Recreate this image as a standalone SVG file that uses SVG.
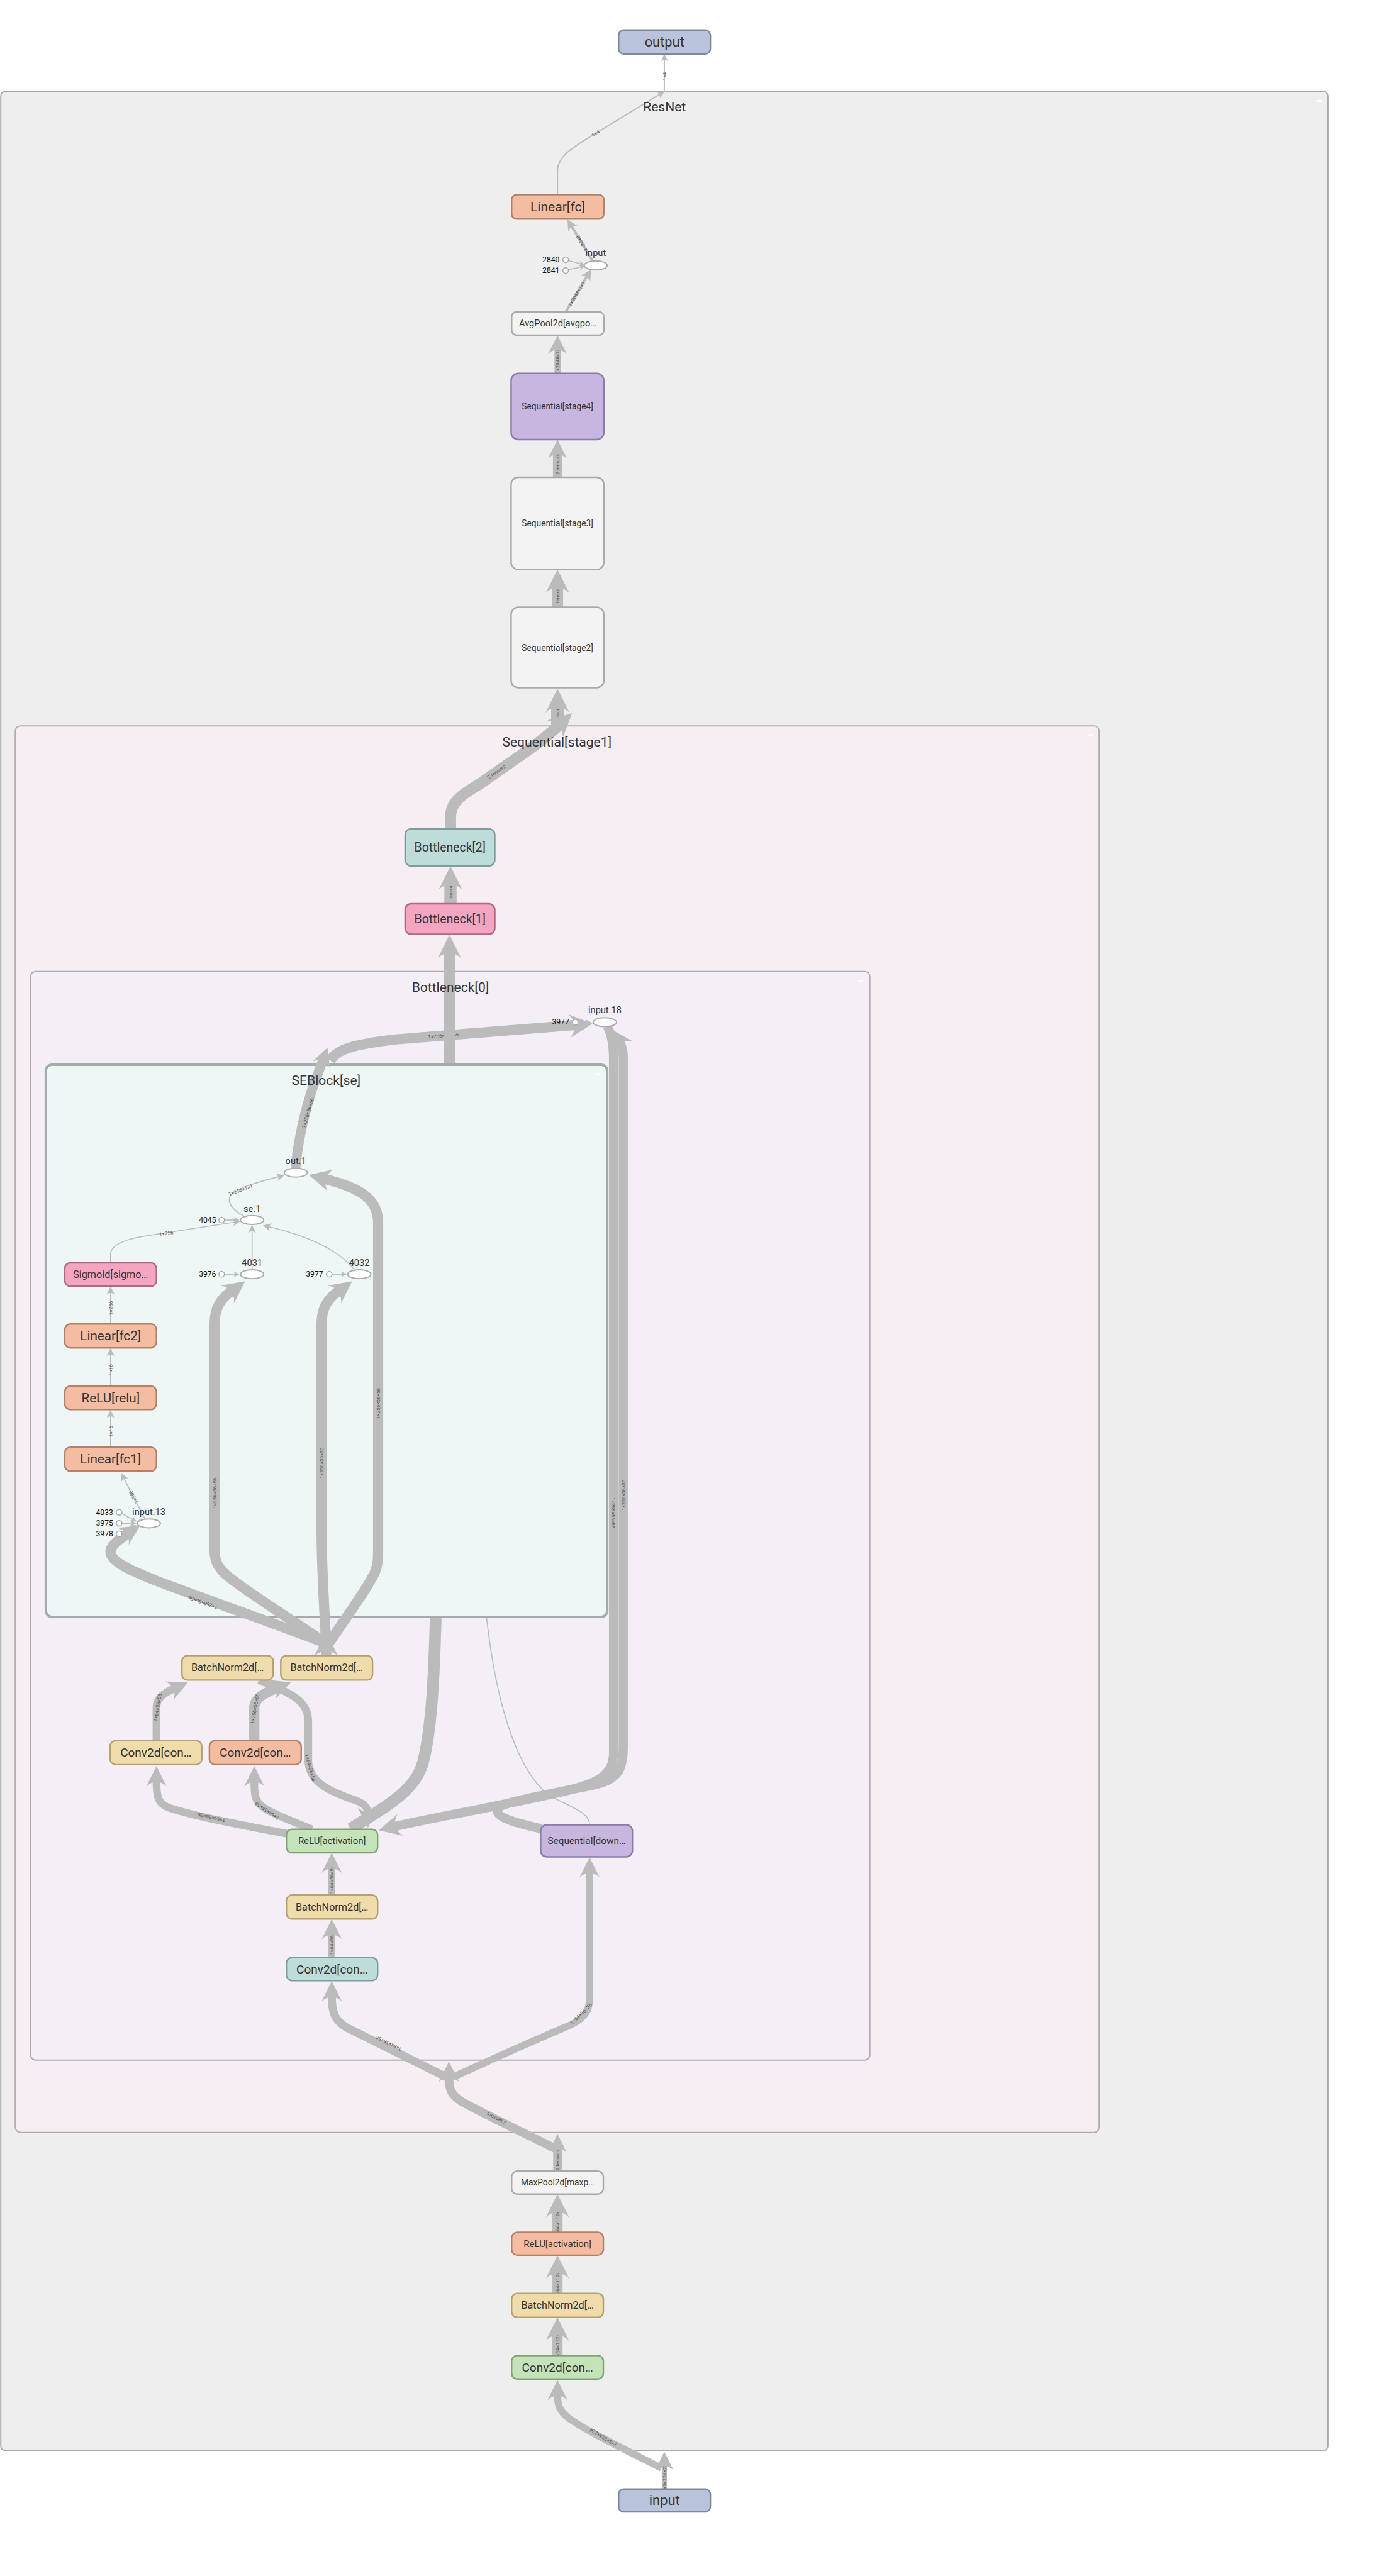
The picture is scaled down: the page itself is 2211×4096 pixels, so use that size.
<svg xmlns="http://www.w3.org/2000/svg" width="2211" height="4096" viewBox="0 0 2211 4096">
<style>
.e{fill:none;stroke:#bbb}
.ah{fill:none;stroke:none}
.l{font-family:Roboto,"Liberation Sans",sans-serif;font-size:10px;fill:#555;text-anchor:middle;dominant-baseline:central}
.t{font-family:Roboto,"Liberation Sans",sans-serif;fill:#333;text-anchor:middle;dominant-baseline:central}
.cl{font-family:Roboto,"Liberation Sans",sans-serif;font-size:26px;fill:#333;text-anchor:middle}
.el-l{font-family:Roboto,"Liberation Sans",sans-serif;font-size:18px;fill:#333;text-anchor:middle}
.c{font-family:Roboto,"Liberation Sans",sans-serif;font-size:15px;fill:#111;text-anchor:end;dominant-baseline:central}
.el{fill:#fff;stroke:#aaa;stroke-width:2.5}
.cc{fill:#fff;stroke:#aaa;stroke-width:2}
.nd{stroke-width:3}
.blue{fill:#b9c4dc;stroke:#7d889e}
.peach{fill:#f4bca1;stroke:#b18169}
.purple{fill:#c6b6e0;stroke:#8c7ba8}
.gray{fill:#f3f3f3;stroke:#aaaaaa}
.teal{fill:#bddcda;stroke:#7f9d9b}
.pink{fill:#f4a5c1;stroke:#b06985}
.yellow{fill:#f0dbab;stroke:#b5a071}
.green{fill:#c5e3b8;stroke:#84a27a}
.btn{fill:#fff}
</style>
<defs>
<marker id="arr" viewBox="0 0 10 10" refX="10" refY="5" markerWidth="1" markerHeight="1" orient="auto"><path d="M0 0L10 5L0 10C3 7 3 3 0 0Z" fill="#bbb"/></marker>
</defs>
<g transform="scale(0.81)">
<g id="clusters">
<g id="cluster-resnet"><rect x="1.5" y="180" width="2604.5" height="4630" rx="8" fill="#eeeeee" stroke="#a9a9a9" stroke-width="2.5"/><rect class="btn" x="2584" y="196" width="10" height="4"/></g>
<g id="cluster-stage1"><rect x="30" y="1425" width="2127" height="2761" rx="10" fill="#f6eef2" stroke="#b3acaf" stroke-width="2.5"/><rect class="btn" x="2136" y="1441" width="10" height="4"/></g>
<g id="cluster-bottleneck0"><rect x="60" y="1907" width="1647" height="2137" rx="10" fill="#f4eef6" stroke="#adaab1" stroke-width="2.5"/><rect class="btn" x="1684" y="1924" width="10" height="4"/></g>
<g id="cluster-seblock"><rect x="90" y="2090" width="1101.5" height="1084" rx="12" fill="#eef7f6" stroke="#a3acab" stroke-width="5"/><rect class="btn" x="1168" y="2107" width="12" height="4"/></g>
</g>
<g id="connectors">
<!-- edges passing near/behind SEBlock -->
<path class="e" stroke-width="20" d="M648 2082 C662 2058 700 2050 770 2041 L1131 2012"/>
<text class="l" transform="translate(870 2033) rotate(-5)">1×256×56×56</text>
<path class="e" stroke-width="23" d="M688 3590 C760 3545 815 3515 830 3460 C848 3390 852 3280 855 3176.5"/>
<path class="e" stroke-width="23" d="M882 2087.5 L882 1867"/>
<path class="e" stroke-width="2" d="M955 3176.5 C972 3330 1010 3470 1075 3522 C1110 3545 1157 3555 1157 3582"/>
<!-- SEBlock inner edges -->
<path class="e" stroke-width="19" d="M580 2293 C584 2245 597 2185 612 2140 L634 2080"/>
<path class="e" stroke-width="20" d="M640 3226 C560 3195 460 3160 330 3112 C250 3082 200 3060 222 3034 C228 3025 240 3018 252 3010"/>
<path class="e" stroke-width="20" d="M640 3226 C560 3172 470 3115 440 3088 C424 3072 421 3060 421 3040 L421 2600 C421 2565 435 2548 456 2533"/>
<path class="e" stroke-width="20" d="M640 3226 C636 3150 631 3080 631 3000 L631 2600 C631 2565 645 2548 666 2533"/>
<path class="e" stroke-width="20" d="M645 3226 C690 3160 722 3115 735 3088 C742 3072 742 3060 742 3040 L742 2400 C742 2350 700 2330 636 2314"/>
<path class="e" stroke-width="20" d="M640 3250 L640 3237.6"/>
<path class="e" stroke-width="2" d="M284 2981 L243 2902"/>
<path class="e" stroke-width="2" d="M217 2841 L217 2779"/>
<path class="e" stroke-width="2" d="M217 2721 L217 2657.7"/>
<path class="e" stroke-width="2" d="M217 2479 L217 2462 C217 2445 240 2432 300 2424 L461 2399"/>
<path class="e" stroke-width="2" d="M217 2599 L217 2536.7"/>
<path class="e" stroke-width="2" d="M494.7 2492.4 L494.7 2415.7"/>
<path class="e" stroke-width="2" d="M696 2493 C670 2460 620 2430 527 2408"/>
<path class="e" stroke-width="2" d="M480 2388 C455 2375 445 2360 452 2348 C462 2333 500 2322 547 2310"/>
<path class="e" stroke-width="2" d="M441 2395 L461.6 2395"/>
<path class="e" stroke-width="2" d="M441 2501.4 L461.6 2501.4"/>
<path class="e" stroke-width="2" d="M651.5 2501.4 L672 2501.4"/>
<path class="e" stroke-width="2" d="M239 2971 L260.6 2983"/>
<path class="e" stroke-width="2" d="M239.5 2990.4 L259.6 2990.4"/>
<path class="e" stroke-width="2" d="M239 3008 L260.4 2997.7"/>
<!-- Bottleneck[0] edges -->
<path class="e" stroke-width="2" d="M1134.5 2006.7 L1151.6 2006.7"/>
<path class="e" stroke-width="18" d="M1192 2015 C1200 2030 1204 2050 1204 2080 L1204 3440 C1204 3495 1160 3505 1060 3527 C930 3555 840 3570 773 3586"/>
<path class="e" stroke-width="18" d="M1063 3590 C1010 3578 975 3568 975 3553 C975 3538 1080 3522 1170 3503 C1215 3492 1223 3470 1223 3430 L1223 2075 C1223 2062 1220 2052 1216 2046"/>
<path class="e" stroke-width="15" d="M565 3600 C470 3582 380 3565 330 3548 C310 3540 307 3528 307 3495"/>
<path class="e" stroke-width="15" d="M612 3591 C560 3570 520 3555 508 3540 C500 3530 499 3520 499 3495"/>
<path class="e" stroke-width="15" d="M307 3417 L307 3352 C307 3335 318 3325 343 3314"/>
<path class="e" stroke-width="20" d="M499 3417 L499 3352 C499 3335 515 3325 545 3313"/>
<path class="e" stroke-width="15" d="M508 3298 C565 3322 605 3335 605 3380 L605 3455 C605 3500 650 3518 700 3535 C715 3541 722 3548 722 3560"/>
<path class="e" stroke-width="14" d="M651 3720 L651 3665"/>
<path class="e" stroke-width="14" d="M651 3843 L651 3795"/>
<path class="e" stroke-width="16" d="M881 4080 C800 4040 720 4000 680 3980 C656 3966 651 3950 651 3917"/>
<path class="e" stroke-width="14" d="M888 4078 C960 4045 1060 4000 1120 3975 C1150 3960 1157 3945 1157 3920 L1157 3674"/>
<!-- stage1 edges -->
<path class="e" stroke-width="17" d="M1090 4218 C1020 4183 950 4150 905 4125 C883 4110 881 4100 881 4075"/>
<path class="e" stroke-width="22" d="M884 1627 L884 1605 C884 1575 905 1560 940 1540 L1040 1470 C1065 1452 1082 1438 1099 1422"/>
<path class="e" stroke-width="24" d="M884 1774 L884 1733"/>
<!-- ResNet edges -->
<path class="e" stroke-width="2.5" d="M1303.6 180 L1303.6 116.5"/>
<path class="e" stroke-width="2.5" d="M1094 381 L1094 335 C1094 305 1130 285 1180 255 L1295 185"/>
<path class="e" stroke-width="5" d="M1162 511 L1121.5 444"/>
<path class="e" stroke-width="5" d="M1111 611 L1152.1 542"/>
<path class="e" stroke-width="2" d="M1115.5 511.5 L1140 518"/>
<path class="e" stroke-width="2" d="M1115.5 529.5 L1140 524"/>
<path class="e" stroke-width="12" d="M1094 732 L1094 684"/>
<path class="e" stroke-width="18" d="M1094 937 L1094 889"/>
<path class="e" stroke-width="22" d="M1094 1192 L1094 1150"/>
<path class="e" stroke-width="25" d="M1094 1425 L1094 1385"/>
<path class="e" stroke-width="17" d="M1094 4262 L1094 4214"/>
<path class="e" stroke-width="20" d="M1094 4382 L1094 4339"/>
<path class="e" stroke-width="20" d="M1094 4501 L1094 4459"/>
<path class="e" stroke-width="20" d="M1094 4623 L1094 4581"/>
<path class="e" stroke-width="10" d="M1303.6 4886 L1303.6 4838"/>
<path class="e" stroke-width="14" d="M1298 4845 C1220 4805 1150 4772 1115 4746 C1098 4733 1094 4722 1094 4700"/>
<!-- labels -->
<g id="edge-labels">
<text class="l" transform="translate(1303.6 150) rotate(-90)">1×4</text>
<text class="l" transform="translate(1169 262) rotate(-31)">1×4</text>
<text class="l" transform="translate(1141.7 477.5) rotate(239)">1×2048</text>
<text class="l" transform="translate(1131.5 576.5) rotate(-59)">1×2048×1×1</text>
<text class="l" transform="translate(1094 706) rotate(-90)">1×2048×7×7</text>
<text class="l" transform="translate(1094 911) rotate(-90)">2 tensors</text>
<text class="l" transform="translate(1094 1170) rotate(-90)">tensor</text>
<text class="l" transform="translate(1094 1405) rotate(-90)">tensor</text>
<text class="l" transform="translate(974 1515) rotate(-35)">2 tensors</text>
<text class="l" transform="translate(884 1752) rotate(-90)">tensor</text>
<text class="l" transform="translate(604 2185) rotate(-74)">1×256×56×56</text>
<text class="l" transform="translate(472 2336) rotate(-20)">1×256×1×1</text>
<text class="l" transform="translate(326 2421) rotate(-9)">1×256</text>
<text class="l" transform="translate(217 2568) rotate(-90)">1×256</text>
<text class="l" transform="translate(217 2689) rotate(-90)">1×16</text>
<text class="l" transform="translate(217 2810) rotate(-90)">1×16</text>
<text class="l" transform="translate(262 2939) rotate(242)">1×256</text>
<text class="l" transform="translate(398 3146) rotate(200)">1×256×56×56</text>
<text class="l" transform="translate(421 2931) rotate(-90)">1×256×56×56</text>
<text class="l" transform="translate(631 2872) rotate(-90)">1×256×56×56</text>
<text class="l" transform="translate(742 2755) rotate(-90)">1×256×56×56</text>
<text class="l" transform="translate(1204 2970) rotate(90)">1×256×56×56</text>
<text class="l" transform="translate(1223 2935) rotate(-90)">1×256×56×56</text>
<text class="l" transform="translate(415 3568) rotate(193)">1×64×56×56</text>
<text class="l" transform="translate(524 3555) rotate(215)">1×64×56×56</text>
<text class="l" transform="translate(309 3352) rotate(-80)">1×64×56×56</text>
<text class="l" transform="translate(500 3354) rotate(-80)">1×256×56×56</text>
<text class="l" transform="translate(609 3470) rotate(75)">1×64×56×56</text>
<text class="l" transform="translate(651 3690) rotate(-90)">1×64×56×56</text>
<text class="l" transform="translate(651 3810) rotate(-90)">1×64×56×56</text>
<text class="l" transform="translate(763 4011) rotate(207)">1×64×56×56</text>
<text class="l" transform="translate(1140 3953) rotate(-45)">1×64×56×56</text>
<text class="l" transform="translate(974 4159) rotate(207)">2 tensors</text>
<text class="l" transform="translate(1094 4240) rotate(-90)">2 tensors</text>
<text class="l" transform="translate(1094 4598) rotate(-90)">1×64×112×112</text>
<text class="l" transform="translate(1094 4476) rotate(-90)">1×64×112×112</text>
<text class="l" transform="translate(1094 4357) rotate(-90)">1×64×112×112</text>
<text class="l" transform="translate(1303.6 4862) rotate(-90)">1×3×224×224</text>
<text class="l" transform="translate(1184 4785) rotate(211)">1×3×224×224</text>
</g>
<g id="arrowheads">
<path class="ah" stroke-width="15" marker-end="url(#arr)" d="M1303.6 110 L1303.6 106"/>
<path class="ah" stroke-width="15" marker-end="url(#arr)" d="M1302.3 180.5 L1304 179.5"/>
<path class="ah" stroke-width="22" marker-end="url(#arr)" d="M1114.5 432.5 L1113.5 430.8"/>
<path class="ah" stroke-width="22" marker-end="url(#arr)" d="M1159 530.5 L1160 528.8"/>
<path class="ah" stroke-width="12" marker-end="url(#arr)" d="M1140 518 L1148 520"/>
<path class="ah" stroke-width="12" marker-end="url(#arr)" d="M1140 524 L1148.2 522.1"/>
<path class="ah" stroke-width="37" marker-end="url(#arr)" d="M1094 662 L1094 658"/>
<path class="ah" stroke-width="37" marker-end="url(#arr)" d="M1094 867 L1094 863"/>
<path class="ah" stroke-width="46" marker-end="url(#arr)" d="M1094 1122 L1094 1118"/>
<path class="ah" stroke-width="47" marker-end="url(#arr)" d="M1094 1356 L1094 1352"/>
<path class="ah" stroke-width="46" marker-end="url(#arr)" d="M1121 1401.4 L1122.5 1400"/>
<path class="ah" stroke-width="47" marker-end="url(#arr)" d="M884 1704 L884 1700"/>
<path class="ah" stroke-width="46" marker-end="url(#arr)" d="M882 1839 L882 1835"/>
<path class="ah" stroke-width="46" marker-end="url(#arr)" d="M1161 2009.7 L1163 2009.5"/>
<path class="ah" stroke-width="12" marker-end="url(#arr)" d="M1156 2006.7 L1160 2006.7"/>
<path class="ah" stroke-width="44" marker-end="url(#arr)" d="M1200.1 2022 L1199 2020.4"/>
<path class="ah" stroke-width="36" marker-end="url(#arr)" d="M642 2058.2 L642.7 2056.3"/>
<path class="ah" stroke-width="16" marker-end="url(#arr)" d="M238.7 2893.8 L237.8 2892"/>
<path class="ah" stroke-width="16" marker-end="url(#arr)" d="M217 2770 L217 2767.8"/>
<path class="ah" stroke-width="16" marker-end="url(#arr)" d="M217 2649 L217 2646.5"/>
<path class="ah" stroke-width="16" marker-end="url(#arr)" d="M217 2528 L217 2525.5"/>
<path class="ah" stroke-width="16" marker-end="url(#arr)" d="M470 2397.6 L472 2397.3"/>
<path class="ah" stroke-width="16" marker-end="url(#arr)" d="M494.7 2407 L494.7 2404.5"/>
<path class="ah" stroke-width="16" marker-end="url(#arr)" d="M518 2406 L516 2405.5"/>
<path class="ah" stroke-width="16" marker-end="url(#arr)" d="M556 2307.8 L557.9 2307.3"/>
<path class="ah" stroke-width="12" marker-end="url(#arr)" d="M466 2395 L470 2395"/>
<path class="ah" stroke-width="12" marker-end="url(#arr)" d="M466 2501.4 L470 2501.4"/>
<path class="ah" stroke-width="12" marker-end="url(#arr)" d="M676.5 2501.4 L680.5 2501.4"/>
<path class="ah" stroke-width="12" marker-end="url(#arr)" d="M264.5 2985 L268 2987"/>
<path class="ah" stroke-width="12" marker-end="url(#arr)" d="M264 2990.4 L268 2990.4"/>
<path class="ah" stroke-width="12" marker-end="url(#arr)" d="M264.4 2995.8 L268 2994"/>
<path class="ah" stroke-width="40" marker-end="url(#arr)" d="M273.3 2995.7 L275 2994.6"/>
<path class="ah" stroke-width="44" marker-end="url(#arr)" d="M479.4 2516.2 L481 2515"/>
<path class="ah" stroke-width="44" marker-end="url(#arr)" d="M689.4 2516.2 L691 2515"/>
<path class="ah" stroke-width="44" marker-end="url(#arr)" d="M608 2307.1 L606 2306.6"/>
<path class="ah" stroke-width="48" marker-end="url(#arr)" d="M640 3208 L640 3204"/>
<path class="ah" stroke-width="44" marker-end="url(#arr)" d="M745 3592.5 L743 3593"/>
<path class="ah" stroke-width="40" marker-end="url(#arr)" d="M307 3471 L307 3467"/>
<path class="ah" stroke-width="40" marker-end="url(#arr)" d="M499 3471 L499 3467"/>
<path class="ah" stroke-width="40" marker-end="url(#arr)" d="M366.8 3303.5 L368.6 3302.7"/>
<path class="ah" stroke-width="40" marker-end="url(#arr)" d="M569.1 3303.3 L571 3302.6"/>
<path class="ah" stroke-width="40" marker-end="url(#arr)" d="M722 3584 L722 3588"/>
<path class="ah" stroke-width="40" marker-end="url(#arr)" d="M651 3641 L651 3637"/>
<path class="ah" stroke-width="40" marker-end="url(#arr)" d="M651 3771 L651 3767"/>
<path class="ah" stroke-width="40" marker-end="url(#arr)" d="M651 3893 L651 3889"/>
<path class="ah" stroke-width="40" marker-end="url(#arr)" d="M1157 3650 L1157 3646"/>
<path class="ah" stroke-width="40" marker-end="url(#arr)" d="M881 4051 L881 4047"/>
<path class="ah" stroke-width="36" marker-end="url(#arr)" d="M1094 4193 L1094 4189"/>
<path class="ah" stroke-width="46" marker-end="url(#arr)" d="M1094 4553 L1094 4549"/>
<path class="ah" stroke-width="46" marker-end="url(#arr)" d="M1094 4431 L1094 4427"/>
<path class="ah" stroke-width="46" marker-end="url(#arr)" d="M1094 4311 L1094 4307"/>
<path class="ah" stroke-width="36" marker-end="url(#arr)" d="M1303.6 4817 L1303.6 4813"/>
<path class="ah" stroke-width="40" marker-end="url(#arr)" d="M1094 4676 L1094 4672"/>
</g>
</g>
<g id="nodes">
<g id="node-output"><rect class="nd blue" x="1214" y="59" width="180" height="47" rx="10"/><text class="t" x="1304" y="82.5" font-size="27">output</text></g>
<g id="node-linear-fc"><rect class="nd peach" x="1004" y="382" width="181" height="48" rx="10"/><text class="t" x="1094.5" y="406" font-size="26">Linear[fc]</text></g>
<g id="node-input-ellipse"><ellipse class="el" cx="1169" cy="521" rx="22.5" ry="9"/><text class="el-l" x="1169" y="503">input</text></g>
<g id="node-2840"><circle class="cc" cx="1110" cy="510" r="5.5"/><text class="c" x="1098" y="510">2840</text></g>
<g id="node-2841"><circle class="cc" cx="1110" cy="531" r="5.5"/><text class="c" x="1098" y="531">2841</text></g>
<g id="node-avgpool"><rect class="nd gray" x="1004" y="612" width="181" height="46" rx="10"/><text class="t" x="1094.5" y="635" font-size="18">AvgPool2d[avgpo…</text></g>
<g id="node-stage4"><rect class="nd purple" x="1003" y="733" width="182" height="130" rx="14"/><text class="t" x="1094" y="798" font-size="17">Sequential[stage4]</text></g>
<g id="node-stage3"><rect class="nd gray" x="1003" y="937" width="182" height="181" rx="14"/><text class="t" x="1094" y="1027.5" font-size="17">Sequential[stage3]</text></g>
<g id="node-stage2"><rect class="nd gray" x="1003" y="1192" width="182" height="158" rx="14"/><text class="t" x="1094" y="1271" font-size="17">Sequential[stage2]</text></g>
<g id="node-bottleneck2"><rect class="nd teal" x="795" y="1627" width="176" height="73" rx="12"/><text class="t" x="883" y="1663.5" font-size="24">Bottleneck[2]</text></g>
<g id="node-bottleneck1"><rect class="nd pink" x="795" y="1774" width="176" height="60" rx="12"/><text class="t" x="883" y="1804" font-size="24">Bottleneck[1]</text></g>
<g id="node-input18"><ellipse class="el" cx="1187" cy="2006.7" rx="22.8" ry="8.8"/><text class="el-l" x="1187" y="1989">input.18</text></g>
<g id="node-3977a"><circle class="cc" cx="1129" cy="2006.7" r="5.5"/><text class="c" x="1117" y="2006.7">3977</text></g>
<g id="node-out1"><ellipse class="el" cx="580.5" cy="2302" rx="22.8" ry="8.8"/><text class="el-l" x="580.5" y="2285.5">out.1</text></g>
<g id="node-se1"><ellipse class="el" cx="494.7" cy="2395" rx="22.8" ry="8.8"/><text class="el-l" x="494.7" y="2379">se.1</text></g>
<g id="node-4045"><circle class="cc" cx="435" cy="2395" r="5.5"/><text class="c" x="424" y="2395">4045</text></g>
<g id="node-4031"><ellipse class="el" cx="494.7" cy="2501.4" rx="22.8" ry="8.8"/><text class="el-l" x="494.7" y="2485">4031</text></g>
<g id="node-3976"><circle class="cc" cx="435" cy="2501.4" r="5.5"/><text class="c" x="424" y="2501.4">3976</text></g>
<g id="node-4032"><ellipse class="el" cx="705" cy="2501.4" rx="22.8" ry="8.8"/><text class="el-l" x="705" y="2485">4032</text></g>
<g id="node-3977b"><circle class="cc" cx="646" cy="2501.4" r="5.5"/><text class="c" x="634" y="2501.4">3977</text></g>
<g id="node-sigmoid"><rect class="nd pink" x="127" y="2479" width="180" height="46" rx="11"/><text class="t" x="217" y="2502" font-size="20">Sigmoid[sigmo…</text></g>
<g id="node-fc2"><rect class="nd peach" x="127" y="2599" width="180" height="47" rx="11"/><text class="t" x="217" y="2622.5" font-size="25.5">Linear[fc2]</text></g>
<g id="node-relu"><rect class="nd peach" x="127" y="2721" width="180" height="46" rx="11"/><text class="t" x="217" y="2744" font-size="25.5">ReLU[relu]</text></g>
<g id="node-fc1"><rect class="nd peach" x="127" y="2841" width="180" height="47" rx="11"/><text class="t" x="217" y="2864.5" font-size="25.5">Linear[fc1]</text></g>
<g id="node-input13"><ellipse class="el" cx="292" cy="2990.5" rx="22.8" ry="8.8"/><text class="el-l" x="292" y="2974">input.13</text></g>
<g id="node-4033"><circle class="cc" cx="233.8" cy="2968.8" r="5.5"/><text class="c" x="222" y="2968.8">4033</text></g>
<g id="node-3975"><circle class="cc" cx="233.8" cy="2990.4" r="5.5"/><text class="c" x="222" y="2990.4">3975</text></g>
<g id="node-3978"><circle class="cc" cx="233.8" cy="3011" r="5.5"/><text class="c" x="222" y="3011">3978</text></g>
<g id="node-bn-a"><rect class="nd yellow" x="357" y="3250" width="179" height="48" rx="11"/><text class="t" x="446.5" y="3274" font-size="20">BatchNorm2d[…</text></g>
<g id="node-bn-b"><rect class="nd yellow" x="551" y="3250" width="180" height="48" rx="11"/><text class="t" x="641" y="3274" font-size="20">BatchNorm2d[…</text></g>
<g id="node-conv-a"><rect class="nd yellow" x="216" y="3417" width="180" height="47" rx="11"/><text class="t" x="306" y="3440.5" font-size="23.5">Conv2d[con…</text></g>
<g id="node-conv-b"><rect class="nd peach" x="411" y="3417" width="180" height="47" rx="11"/><text class="t" x="501" y="3440.5" font-size="23.5">Conv2d[con…</text></g>
<g id="node-relu-act-b0"><rect class="nd green" x="562" y="3591" width="179" height="46" rx="11"/><text class="t" x="651.5" y="3614" font-size="18.5">ReLU[activation]</text></g>
<g id="node-bn-c"><rect class="nd yellow" x="562" y="3720" width="179" height="47" rx="11"/><text class="t" x="651.5" y="3743.5" font-size="20">BatchNorm2d[…</text></g>
<g id="node-conv-c"><rect class="nd teal" x="562" y="3843" width="179" height="45" rx="11"/><text class="t" x="651.5" y="3865.5" font-size="23.5">Conv2d[con…</text></g>
<g id="node-downsample"><rect class="nd purple" x="1061" y="3582" width="180" height="63" rx="12"/><text class="t" x="1151" y="3613.5" font-size="19">Sequential[down…</text></g>
<g id="node-maxpool"><rect class="nd gray" x="1004" y="4262" width="180" height="45" rx="11"/><text class="t" x="1094" y="4284.5" font-size="17">MaxPool2d[maxp…</text></g>
<g id="node-relu-act"><rect class="nd peach" x="1004" y="4382" width="180" height="45" rx="11"/><text class="t" x="1094" y="4404.5" font-size="18.5">ReLU[activation]</text></g>
<g id="node-bn1"><rect class="nd yellow" x="1004" y="4502" width="180" height="47" rx="11"/><text class="t" x="1094" y="4525.5" font-size="20">BatchNorm2d[…</text></g>
<g id="node-conv1"><rect class="nd green" x="1004" y="4624" width="180" height="46" rx="11"/><text class="t" x="1094" y="4647" font-size="23.5">Conv2d[con…</text></g>
<g id="node-input"><rect class="nd blue" x="1214" y="4886" width="180" height="45" rx="10"/><text class="t" x="1304" y="4908.5" font-size="27">input</text></g>
</g>
<g id="cluster-labels">
<text class="cl" x="1304" y="219" font-size="25">ResNet</text>
<text class="cl" x="1093" y="1465">Sequential[stage1]</text>
<text class="cl" x="884" y="1947">Bottleneck[0]</text>
<text class="cl" x="640" y="2130">SEBlock[se]</text>
</g>
</g>
</svg>
